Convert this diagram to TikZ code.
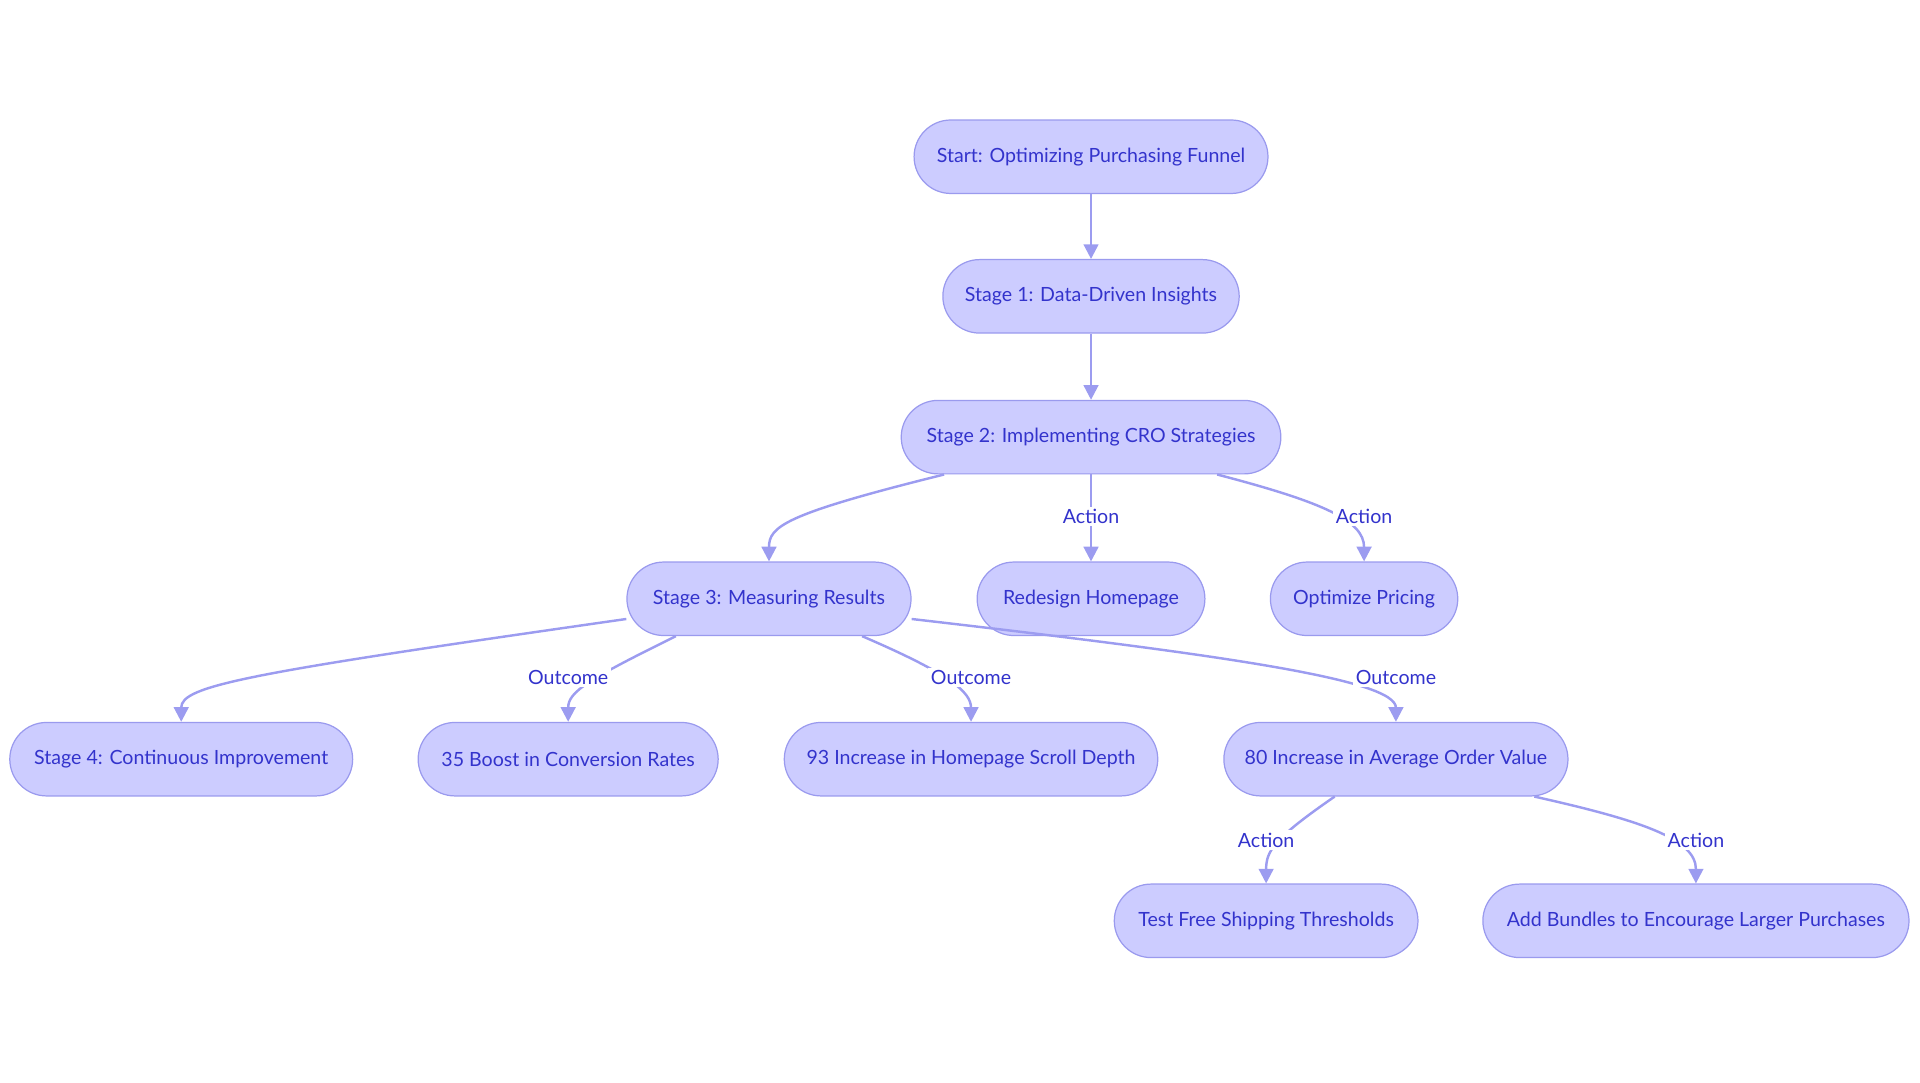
\documentclass[tikz,border=0pt]{standalone}
\usepackage{fontspec}
\setmainfont{Lato}
\usetikzlibrary{arrows.meta,calc}
\definecolor{nfill}{HTML}{CCCCFF}
\definecolor{nbord}{HTML}{9A9AEE}
\definecolor{ntext}{HTML}{3333CC}
\definecolor{eline}{HTML}{9C9CF0}
\tikzset{
  box/.style={draw=nbord,fill=nfill,text=ntext,rounded corners=15pt,minimum height=30pt,inner sep=0pt,font=\fontsize{8}{9}\selectfont,line width=0.5pt},
  edge/.style={draw=eline,line width=1pt,-{Triangle[length=6pt,width=6pt]}},
  lbl/.style={fill=white,text=ntext,inner sep=1pt,font=\fontsize{8}{9}\selectfont}
}
\begin{document}
\begin{tikzpicture}[x=0.5pt,y=-0.5pt]
\useasboundingbox (0,0) rectangle (1568,884);
\node[box,minimum width=144.5pt] (start) at (891,128) {Start: Optimizing Purchasing Funnel};
\node[box,minimum width=121pt] (s1) at (891,242) {Stage 1: Data-Driven Insights};
\node[box,minimum width=155pt] (s2) at (891,357) {Stage 2: Implementing CRO Strategies};
\node[box,minimum width=116pt] (s3) at (628,489) {Stage 3: Measuring Results};
\node[box,minimum width=93pt] (rh) at (891,489) {Redesign Homepage};
\node[box,minimum width=76.5pt] (op) at (1114,489) {Optimize Pricing};
\node[box,minimum width=140pt] (s4) at (148,620) {Stage 4: Continuous Improvement};
\node[box,minimum width=122.5pt] (b35) at (464,620) {35 Boost in Conversion Rates};
\node[box,minimum width=152.5pt] (b93) at (793,620) {93 Increase in Homepage Scroll Depth};
\node[box,minimum width=140.5pt] (b80) at (1140,620) {80 Increase in Average Order Value};
\node[box,minimum width=124pt] (tf) at (1034,752) {Test Free Shipping Thresholds};
\node[box,minimum width=174pt] (ab) at (1385,752) {Add Bundles to Encourage Larger Purchases};

\draw[edge] (start) -- (s1);
\draw[edge] (s1) -- (s2);
\draw[edge] ($(s2.south)+(-120,0)$) .. controls (640,420) and (628,430) .. (s3.north);
\draw[edge] (s2) -- (rh);
\draw[edge] ($(s2.south)+(103,0)$) .. controls (1080,410) and (1114,425) .. (op.north);
\draw[edge] ($(s3.south west)+(0,-14)$) .. controls (200,550) and (148,560) .. (s4.north);
\draw[edge] ($(s3.south)+(-76,0)$) .. controls (480,555) and (464,565) .. (b35.north);
\draw[edge] ($(s3.south)+(76,0)$) .. controls (775,550) and (793,565) .. (b93.north);
\draw[edge] ($(s3.south east)+(0,-14)$) .. controls (1000,535) and (1140,555) .. (b80.north);
\draw[edge] ($(b80.south)+(-50,0)$) .. controls (1040,685) and (1034,695) .. (tf.north);
\draw[edge] ($(b80.south)+(113,0)$) .. controls (1340,670) and (1385,685) .. (ab.north);

\node[lbl] (l1) at (891,422) {Action};
\node[lbl] (l2) at (1114,422) {Action};
\node[lbl] (l3) at (464,553) {Outcome};
\node[lbl] (l4) at (793,553) {Outcome};
\node[lbl] (l5) at (1140,553) {Outcome};
\node[lbl] (l6) at (1034,686) {Action};
\node[lbl] (l7) at (1385,686) {Action};
\end{tikzpicture}
\end{document}
